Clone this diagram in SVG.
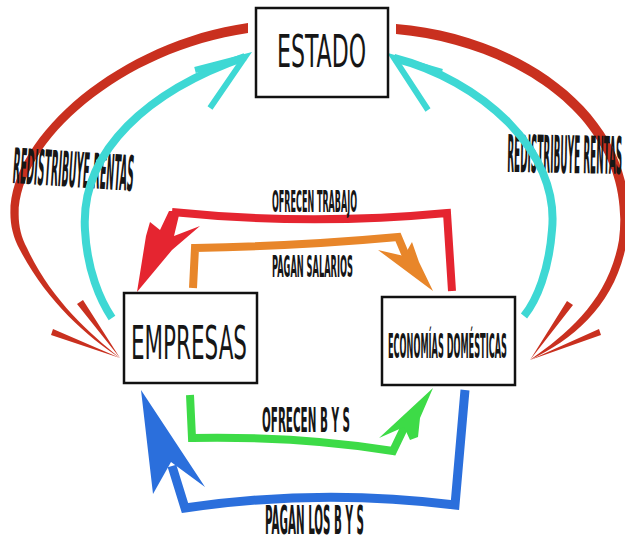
<svg xmlns="http://www.w3.org/2000/svg" width="625" height="542" viewBox="0 0 625 542">
<style>
.box{fill:#fff;stroke:#111;stroke-width:2.5}
.t{font-family:"DejaVu Sans Condensed","DejaVu Sans","Liberation Sans",sans-serif;fill:#161616}
.lb{font-weight:bold}
.sh{fill:none;stroke-linejoin:miter;stroke-linecap:butt}
.rd{fill:#c9301f}
.cy{stroke:#3ed8d4}
</style>
<rect width="625" height="542" fill="#fff"/>
<g id="connectors">
  <g id="redistribuye-izq">
    <path class="rd" d="M248,23 C100,44 -26,168 20,250 C46,300 86,336 120,358 C88,332 50,298 27,248 C-14,172 102,54 248,33 Z"/>
    <path class="rd" d="M83,300 L77,304 L120,358 Z M53,329 L51,335 L120,358 Z"/>
    <text class="t lb" x="12" y="183" font-size="49" textLength="121" lengthAdjust="spacingAndGlyphs" transform="rotate(3.8 12 183)">REDISTRIBUYE RENTAS</text>
  </g>
  <g id="redistribuye-der">
    <path class="rd" d="M396,24 C522,34 646,118 627,240 C617,302 576,338 530,360 C570,332 609,298 619,240 C634,122 518,45 396,34 Z"/>
    <path class="rd" d="M573,305 L567,301 L530,360 Z M601,335 L599,329 L530,360 Z"/>
    <text class="t lb" x="622" y="172" font-size="52" text-anchor="end" textLength="115" lengthAdjust="spacingAndGlyphs" transform="rotate(1 507 170)">REDISTRIBUYE RENTAS</text>
  </g>
  <g id="impuestos-empresas">
    <path class="sh cy" stroke-width="8" d="M245,57 C150,90 80,150 85,230 C87,270 100,300 112,318"/>
    <path class="sh cy" stroke-width="6" d="M195,70 L245,57 L210,108"/>
  </g>
  <g id="impuestos-economias">
    <path class="sh cy" stroke-width="8" d="M394,58 C480,80 560,150 552,230 C549,270 537,300 524,316"/>
    <path class="sh cy" stroke-width="6" d="M442,72 L394,58 L428,110"/>
  </g>
  <g id="ofrecen-trabajo">
    <path class="sh" stroke="#e52530" stroke-width="8" d="M452,291 L447,213 Q310,226 172,212"/>
    <path fill="#e52530" d="M137,292 L146,236 L150,222 L160,230 L169,211 L180,211 L174,236 L200,226 L172,250 Z"/>
    <text class="t lb" x="272" y="212" font-size="30" textLength="85" lengthAdjust="spacingAndGlyphs">OFRECEN TRABAJO</text>
  </g>
  <g id="pagan-salarios">
    <path class="sh" stroke="#e8862a" stroke-width="8" d="M193,288 L195,248 Q300,246 398,237 L406,256"/>
    <path fill="#e8862a" d="M433,291 L378,250 L404,256 L412,242 L419,262 Z"/>
    <text class="t lb" x="272" y="277" font-size="30" textLength="81" lengthAdjust="spacingAndGlyphs">PAGAN SALARIOS</text>
  </g>
  <g id="ofrecen-bys">
    <path class="sh" stroke="#3ddb47" stroke-width="8" d="M190,395 L192,438 Q300,436 393,451 L405,426"/>
    <path fill="#3ddb47" d="M433,388 L379,438 L404,427 L410,440 L418,437 L420,418 Z"/>
    <text class="t lb" x="262" y="432" font-size="34" textLength="88" lengthAdjust="spacingAndGlyphs">OFRECEN B Y S</text>
  </g>
  <g id="pagan-bys">
    <path class="sh" stroke="#2b6fdc" stroke-width="9" d="M465,390 L455,505 Q320,488 185,508 L172,466"/>
    <path fill="#2b6fdc" d="M141,390 L153,494 L171,462 L205,487 Z"/>
    <text class="t lb" x="265" y="534" font-size="39" textLength="99" lengthAdjust="spacingAndGlyphs">PAGAN LOS B Y S</text>
  </g>
</g>
<g id="estado">
  <rect class="box" x="256" y="8" width="132" height="89"/>
  <text class="t" x="277" y="67" font-size="44" textLength="89" lengthAdjust="spacingAndGlyphs">ESTADO</text>
</g>
<g id="empresas">
  <rect class="box" x="124" y="293" width="133" height="90"/>
  <text class="t" x="131" y="359" font-size="47" textLength="116" lengthAdjust="spacingAndGlyphs">EMPRESAS</text>
</g>
<g id="economias">
  <rect class="box" x="382" y="297" width="133" height="88"/>
  <text class="t lb" x="507" y="358" font-size="34" text-anchor="end" textLength="119" lengthAdjust="spacingAndGlyphs">ECONOMÍAS DOMÉSTICAS</text>
</g>
</svg>
